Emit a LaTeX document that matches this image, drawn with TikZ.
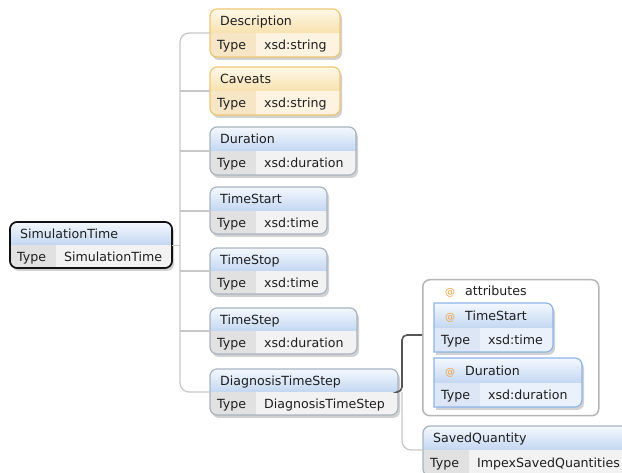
\documentclass[tikz,border=0pt]{standalone}
\usepackage{fontspec}
\setmainfont{DejaVu Sans}
\definecolor{ortop}{HTML}{FFF8EA}
\definecolor{orbot}{HTML}{F7E1AE}
\definecolor{orborder}{HTML}{EFC672}
\definecolor{ortcell}{HTML}{F7E6C6}
\definecolor{orvcell}{HTML}{FDF3E0}
\definecolor{bltop}{HTML}{F4F8FD}
\definecolor{blbot}{HTML}{C3D7F2}
\definecolor{blborder}{HTML}{A8B3C2}
\definecolor{bltcell}{HTML}{E1E1E1}
\definecolor{blvcell}{HTML}{F2F2F2}
\definecolor{simtop}{HTML}{F4F8FD}
\definecolor{simbot}{HTML}{C3D7F2}
\definecolor{simborder}{HTML}{111111}
\definecolor{simtcell}{HTML}{E1E1E1}
\definecolor{simvcell}{HTML}{F2F2F2}
\definecolor{attop}{HTML}{F4F8FD}
\definecolor{atbot}{HTML}{C3D7F2}
\definecolor{atborder}{HTML}{8DB4EA}
\definecolor{attcell}{HTML}{DCE6F5}
\definecolor{atvcell}{HTML}{EAF1FB}
\definecolor{atorange}{HTML}{F0A040}
\definecolor{conngray}{HTML}{C8C8C8}
\definecolor{conndark}{HTML}{555555}
\definecolor{boxgray}{HTML}{B5B5B5}
\definecolor{textcol}{HTML}{1E1E1E}
\def\xattr{at}
\newcommand\xsdel[9]{%
  \def\xs{#1}%
  \ifx\xs\xattr
    \def\xpath{(#3,#4) -- ({#5-7},#4) arc(90:0:7pt) -- (#5,{#7-7}) arc(0:-90:7pt) -- (#3,#7) -- cycle}%
    \def\xtitlex{#3+11}%
  \else
    \def\xpath{(#3,#4) rectangle (#5,#7)}%
    \def\xtitlex{#3+10}%
  \fi
  \node[inner sep=0pt, minimum width={(#5-#3)*1pt}, minimum height={(#7-#4)*1pt}, anchor=north west] (#2) at (#3,#4) {};
  \coordinate (#2-in) at (#3,#6);
  \coordinate (#2-out) at (#5,#6);
  \fill[xshadow, xround=#1, shift={(2,3)}] \xpath;
  \begin{scope}
    \clip[xround=#1] \xpath;
    \shade[top color=#1top, bottom color=#1bot] (#3,#4) rectangle (#5,#6);
    \fill[#1tcell] (#3,#6) rectangle ({#3+46},#7);
    \fill[#1vcell] ({#3+46},#6) rectangle (#5,#7);
  \end{scope}
  \draw[draw=#1border, line width=1.2pt, xround=#1] \xpath;
  \node[xtext] (#2-title) at ({\xtitlex},{(#4+#6)/2+4.6}) {#8};
  \node[xtext] (#2-tlabel) at ({#3+7},{(#6+#7)/2+4.6}) {Type};
  \node[xtext] (#2-type) at ({#3+54},{(#6+#7)/2+4.6}) {#9};
}
\newcommand\attag{\makebox[20pt][l]{\fontsize{10}{10}\selectfont\color{atorange}@}}
\begin{document}
\begin{tikzpicture}[x=1pt,y=-1pt,
  xtext/.style={inner sep=0pt, anchor=base west, font=\fontsize{12.6}{14}\selectfont, text=textcol},
  xshadow/.style={fill=black, opacity=0.18},
  xround/.code={\def\tmpa{#1}\ifx\tmpa\xattr\else\pgfkeysalso{rounded corners=7pt}\fi},
  conn/.style={draw=conngray, line width=1.3pt},
  dconn/.style={draw=conndark, line width=1.6pt}]
\useasboundingbox (0,0) rectangle (622,473);
\clip (0,0) rectangle (622,473);

\xsdel{sim}{sim}{10}{222}{172}{245}{268}{SimulationTime}{SimulationTime}
\draw[draw=simborder, line width=1.6pt, rounded corners=7pt] (10,222) rectangle (172,268);

\xsdel{or}{desc}{210}{9}{340}{33}{57}{Description}{xsd:string}
\xsdel{or}{cav}{210}{67}{340}{91}{115}{Caveats}{xsd:string}
\xsdel{bl}{dur}{210}{127}{356}{151}{175}{Duration}{xsd:duration}
\xsdel{bl}{tstart}{210}{187}{327}{211}{234}{TimeStart}{xsd:time}
\xsdel{bl}{tstop}{210}{248}{327}{271}{294}{TimeStop}{xsd:time}
\xsdel{bl}{tstep}{210}{308}{357}{331}{354}{TimeStep}{xsd:duration}
\xsdel{bl}{dts}{210}{369}{398}{392}{415}{DiagnosisTimeStep}{DiagnosisTimeStep}

\node[draw=boxgray, line width=1.5pt, rounded corners=7pt, fill=white, inner sep=0pt,
  minimum width=176pt, minimum height=136pt, anchor=north west] (attrs) at (422,279) {};
\node[xtext] (attrs-title) at (445,295.5) {\attag attributes};

\xsdel{at}{ats}{434}{303}{553}{328}{352}{\attag TimeStart}{xsd:time}
\xsdel{at}{adur}{434}{358}{582}{383}{407}{\attag Duration}{xsd:duration}
\xsdel{bl}{sq}{423}{426}{650}{450}{476}{SavedQuantity}{ImpexSavedQuantities}

\coordinate (trunk) at (180,0);
\coordinate (bus) at (402,0);
\coordinate (attr-y) at (0,335);
\draw[conn, rounded corners=9pt] (desc-in) -| (trunk |- dts-in) -- (dts-in);
\foreach \n in {cav,dur,tstart,tstop,tstep} \draw[conn] (trunk |- \n-in) -- (\n-in);
\draw[conn] (sim.east) -- (trunk |- sim.east);
\draw[conn, rounded corners=9pt] (bus |- dts-out) |- (sq-in);
\draw[dconn, rounded corners=5pt] (dts-out) -| (bus |- attr-y) -- (attrs.west |- attr-y);
\end{tikzpicture}
\end{document}
